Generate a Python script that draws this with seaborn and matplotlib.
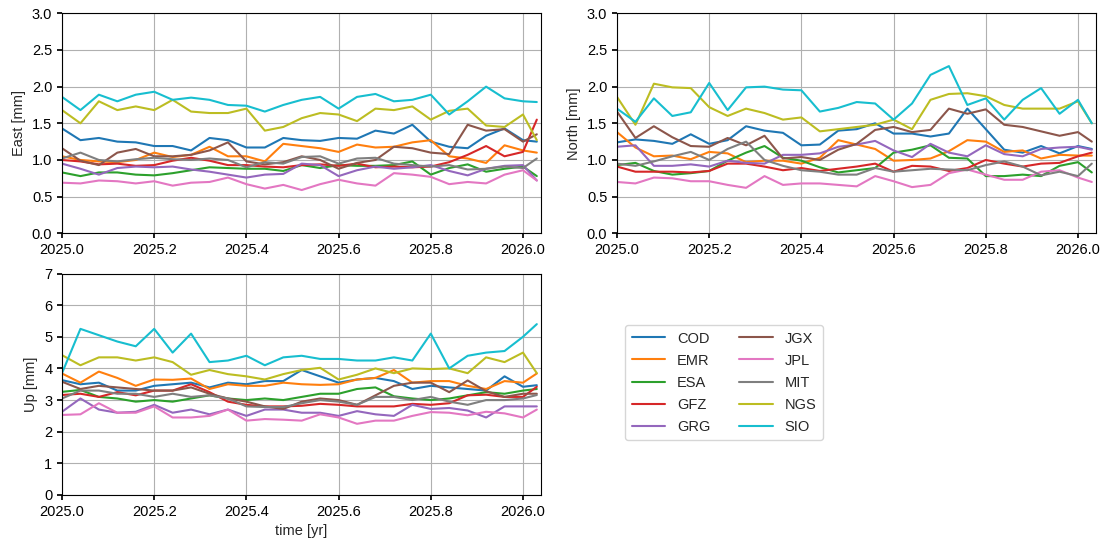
import matplotlib
matplotlib.use('Agg')
import matplotlib.pyplot as plt
import seaborn as sns
import pandas as pd
import numpy as np

# time axis (decimal years), ~2-week steps plus the last epoch
TIME = [2025.00, 2025.04, 2025.08, 2025.12, 2025.16, 2025.20, 2025.24, 2025.28, 2025.32,
        2025.36, 2025.40, 2025.44, 2025.48, 2025.52, 2025.56, 2025.60, 2025.64, 2025.68,
        2025.72, 2025.76, 2025.80, 2025.84, 2025.88, 2025.92, 2025.96, 2026.00, 2026.03]

CENTERS = ['COD', 'EMR', 'ESA', 'GFZ', 'GRG', 'JGX', 'JPL', 'MIT', 'NGS', 'SIO']

# ── East [mm] ────────────────────────────────────────────────────────────────
E_COD = [1.43, 1.27, 1.30, 1.25, 1.24, 1.19, 1.19, 1.13, 1.30, 1.27, 1.17, 1.17, 1.30, 1.27,
         1.26, 1.30, 1.29, 1.40, 1.36, 1.48, 1.25, 1.18, 1.16, 1.33, 1.43, 1.27, 1.25]
E_EMR = [1.05, 1.00, 0.98, 0.97, 1.00, 1.10, 1.04, 1.07, 1.18, 1.05, 1.05, 0.98, 1.22, 1.19,
         1.16, 1.11, 1.21, 1.17, 1.18, 1.24, 1.27, 1.05, 1.02, 0.96, 1.20, 1.13, 1.10]
E_ESA = [0.83, 0.78, 0.83, 0.83, 0.80, 0.79, 0.82, 0.86, 0.90, 0.89, 0.88, 0.88, 0.85, 0.93,
         0.89, 0.93, 0.92, 0.92, 0.93, 0.98, 0.80, 0.89, 0.94, 0.84, 0.88, 0.91, 0.78]
E_GFZ = [1.00, 0.98, 0.94, 0.95, 0.92, 0.93, 0.99, 1.03, 0.99, 0.93, 0.93, 0.91, 0.90, 0.93,
         0.94, 0.92, 0.95, 0.90, 0.91, 0.90, 0.91, 0.97, 1.07, 1.19, 1.05, 1.11, 1.55]
E_GRG = [0.95, 0.88, 0.80, 0.89, 0.91, 0.90, 0.91, 0.87, 0.84, 0.80, 0.76, 0.80, 0.81, 0.95,
         0.93, 0.78, 0.86, 0.91, 0.88, 0.90, 0.93, 0.85, 0.79, 0.88, 0.92, 0.93, 0.72]
E_JGX = [1.16, 0.99, 0.93, 1.10, 1.15, 1.05, 1.05, 1.07, 1.13, 1.24, 0.98, 0.94, 0.97, 1.05,
         1.00, 0.88, 0.96, 1.00, 1.18, 1.16, 1.10, 1.08, 1.48, 1.40, 1.42, 1.25, 1.35]
E_JPL = [0.69, 0.68, 0.72, 0.71, 0.68, 0.71, 0.65, 0.69, 0.70, 0.76, 0.67, 0.61, 0.66, 0.59,
         0.67, 0.73, 0.68, 0.65, 0.82, 0.80, 0.77, 0.67, 0.70, 0.68, 0.80, 0.86, 0.72]
E_MIT = [1.02, 1.10, 1.00, 0.98, 1.01, 1.03, 1.01, 1.00, 1.02, 1.00, 0.90, 0.97, 0.95, 1.04,
         1.05, 0.95, 1.02, 1.03, 0.95, 0.93, 0.91, 0.93, 0.87, 0.88, 0.91, 0.89, 1.02]
E_NGS = [1.68, 1.50, 1.80, 1.68, 1.73, 1.68, 1.82, 1.66, 1.64, 1.64, 1.70, 1.40, 1.45, 1.57,
         1.64, 1.62, 1.53, 1.70, 1.68, 1.73, 1.55, 1.67, 1.70, 1.47, 1.45, 1.62, 1.27]
E_SIO = [1.86, 1.68, 1.89, 1.80, 1.89, 1.93, 1.82, 1.85, 1.82, 1.75, 1.74, 1.66, 1.75, 1.82,
         1.86, 1.70, 1.86, 1.90, 1.80, 1.82, 1.89, 1.62, 1.80, 2.00, 1.84, 1.80, 1.79]

# ── North [mm] ───────────────────────────────────────────────────────────────
N_COD = [1.24, 1.28, 1.26, 1.22, 1.35, 1.22, 1.27, 1.46, 1.40, 1.37, 1.20, 1.21, 1.40, 1.42,
         1.50, 1.36, 1.36, 1.32, 1.36, 1.70, 1.42, 1.14, 1.10, 1.19, 1.09, 1.19, 1.15]
N_EMR = [1.38, 1.17, 1.05, 1.06, 1.01, 1.11, 1.09, 0.97, 0.99, 0.99, 0.95, 1.03, 1.27, 1.21,
         1.15, 0.99, 1.00, 1.02, 1.12, 1.27, 1.25, 1.11, 1.13, 1.02, 1.07, 1.06, 1.06]
N_ESA = [0.93, 0.96, 0.85, 0.80, 0.82, 0.85, 0.99, 1.10, 1.19, 1.03, 0.99, 0.90, 0.83, 0.86,
         0.89, 1.10, 1.14, 1.20, 1.03, 1.02, 0.78, 0.78, 0.80, 0.78, 0.92, 0.97, 0.83]
N_GFZ = [0.91, 0.84, 0.84, 0.84, 0.83, 0.85, 0.95, 0.95, 0.91, 0.86, 0.89, 0.85, 0.88, 0.91,
         0.95, 0.84, 0.92, 0.91, 0.85, 0.89, 1.00, 0.95, 0.91, 0.95, 0.96, 1.05, 1.10]
N_GRG = [1.18, 1.20, 0.92, 0.92, 0.94, 0.91, 0.99, 0.96, 0.95, 1.07, 1.07, 1.09, 1.18, 1.21,
         1.26, 1.13, 1.04, 1.22, 1.10, 1.05, 1.20, 1.08, 1.05, 1.15, 1.17, 1.18, 1.14]
N_JGX = [1.66, 1.30, 1.46, 1.31, 1.19, 1.18, 1.30, 1.20, 1.33, 1.02, 1.04, 1.00, 1.14, 1.22,
         1.41, 1.45, 1.38, 1.41, 1.70, 1.63, 1.69, 1.48, 1.45, 1.39, 1.33, 1.38, 1.25]
N_JPL = [0.70, 0.68, 0.76, 0.75, 0.71, 0.71, 0.66, 0.62, 0.78, 0.66, 0.68, 0.68, 0.66, 0.64,
         0.78, 0.71, 0.63, 0.66, 0.82, 0.87, 0.80, 0.73, 0.73, 0.84, 0.86, 0.76, 0.70]
N_MIT = [0.95, 0.92, 0.98, 1.05, 1.11, 1.00, 1.15, 1.25, 1.00, 0.92, 0.86, 0.84, 0.80, 0.80,
         0.89, 0.84, 0.86, 0.88, 0.87, 0.86, 0.93, 0.98, 0.91, 0.79, 0.84, 0.78, 0.95]
N_NGS = [1.86, 1.48, 2.04, 1.99, 1.98, 1.72, 1.60, 1.70, 1.64, 1.55, 1.58, 1.39, 1.42, 1.45,
         1.48, 1.55, 1.42, 1.82, 1.90, 1.91, 1.87, 1.75, 1.70, 1.70, 1.70, 1.80, 1.50]
N_SIO = [1.70, 1.52, 1.84, 1.60, 1.65, 2.05, 1.68, 1.99, 2.00, 1.96, 1.95, 1.66, 1.71, 1.79,
         1.77, 1.55, 1.77, 2.16, 2.28, 1.75, 1.84, 1.55, 1.82, 1.98, 1.63, 1.82, 1.50]

# ── Up [mm] ──────────────────────────────────────────────────────────────────
U_COD = [3.63, 3.50, 3.55, 3.30, 3.30, 3.45, 3.50, 3.55, 3.40, 3.55, 3.50, 3.60, 3.60, 3.95,
         3.75, 3.55, 3.65, 3.70, 3.60, 3.35, 3.45, 3.40, 3.35, 3.30, 3.75, 3.42, 3.47]
U_EMR = [3.84, 3.55, 3.90, 3.70, 3.45, 3.65, 3.64, 3.68, 3.35, 3.50, 3.45, 3.45, 3.55, 3.50,
         3.48, 3.50, 3.65, 3.70, 3.95, 3.55, 3.60, 3.60, 3.45, 3.35, 3.60, 3.55, 3.84]
U_ESA = [3.26, 3.32, 3.10, 3.05, 2.95, 3.00, 2.95, 3.05, 3.15, 3.05, 3.00, 3.05, 3.00, 3.10,
         3.20, 3.20, 3.35, 3.40, 3.12, 3.05, 3.00, 3.05, 3.15, 3.25, 3.20, 3.30, 3.35]
U_GFZ = [3.16, 3.20, 3.10, 3.25, 3.15, 3.30, 3.30, 3.50, 3.25, 2.95, 2.85, 2.80, 2.80, 2.82,
         2.88, 2.85, 2.80, 2.80, 2.80, 2.88, 2.85, 2.90, 3.15, 3.17, 3.10, 3.10, 3.42]
U_GRG = [2.63, 3.05, 2.70, 2.60, 2.63, 2.85, 2.60, 2.70, 2.55, 2.70, 2.50, 2.70, 2.70, 2.60,
         2.60, 2.50, 2.65, 2.55, 2.50, 2.85, 2.72, 2.75, 2.67, 2.45, 2.80, 2.80, 2.80]
U_JGX = [3.58, 3.35, 3.45, 3.40, 3.35, 3.30, 3.30, 3.40, 3.20, 3.05, 2.95, 2.80, 2.72, 2.95,
         3.05, 3.00, 2.85, 3.15, 3.45, 3.55, 3.55, 3.25, 3.62, 3.28, 3.10, 3.20, 3.20]
U_JPL = [2.53, 2.55, 2.90, 2.60, 2.60, 2.80, 2.45, 2.45, 2.50, 2.70, 2.35, 2.40, 2.38, 2.35,
         2.55, 2.45, 2.25, 2.35, 2.35, 2.50, 2.62, 2.60, 2.52, 2.63, 2.58, 2.45, 2.70]
U_MIT = [3.05, 3.30, 3.30, 3.20, 3.20, 3.10, 3.20, 3.10, 3.15, 3.05, 2.80, 2.78, 2.78, 2.90,
         3.00, 2.95, 2.85, 3.10, 3.10, 3.00, 3.10, 2.95, 2.85, 3.00, 3.00, 3.05, 3.16]
U_NGS = [4.42, 4.10, 4.35, 4.35, 4.25, 4.35, 4.20, 3.80, 3.95, 3.82, 3.75, 3.65, 3.82, 3.95,
         4.02, 3.65, 3.80, 4.00, 3.85, 4.00, 3.98, 4.00, 3.85, 4.35, 4.20, 4.50, 3.85]
U_SIO = [3.85, 5.25, 5.05, 4.85, 4.70, 5.25, 4.50, 5.10, 4.20, 4.25, 4.40, 4.10, 4.35, 4.40,
         4.30, 4.30, 4.25, 4.25, 4.35, 4.25, 5.10, 4.00, 4.40, 4.50, 4.55, 5.00, 5.40]

EAST = [E_COD, E_EMR, E_ESA, E_GFZ, E_GRG, E_JGX, E_JPL, E_MIT, E_NGS, E_SIO]
NORTH = [N_COD, N_EMR, N_ESA, N_GFZ, N_GRG, N_JGX, N_JPL, N_MIT, N_NGS, N_SIO]
UP = [U_COD, U_EMR, U_ESA, U_GFZ, U_GRG, U_JGX, U_JPL, U_MIT, U_NGS, U_SIO]


def build_frame():
    rows = []
    for i, c in enumerate(CENTERS):
        for j, t in enumerate(TIME):
            rows.append((t, c, EAST[i][j], NORTH[i][j], UP[i][j]))
    return pd.DataFrame(rows, columns=['time', 'center', 'East', 'North', 'Up'])


def setup_style():
    sns.set_theme(style='ticks')
    plt.rcParams.update({
        'font.family': ['Liberation Sans', 'DejaVu Sans'],
        'font.size': 10.5,
        'axes.labelsize': 10.5, 'xtick.labelsize': 10.5, 'ytick.labelsize': 10.5,
        'legend.fontsize': 10.5,
        'axes.edgecolor': 'black', 'axes.linewidth': 0.8,
        'xtick.color': 'black', 'ytick.color': 'black',
        'xtick.direction': 'out', 'ytick.direction': 'out',
        'xtick.major.size': 3.5, 'ytick.major.size': 3.5,
        'axes.grid': True, 'grid.color': '#b0b0b0', 'grid.linewidth': 0.8,
        'axes.spines.top': True, 'axes.spines.right': True,
    })


def main():
    setup_style()
    df = build_frame()
    palette = dict(zip(CENTERS, sns.color_palette('tab10', 10)))

    W, H = 1104, 541
    fig = plt.figure(figsize=(W / 100, H / 100), dpi=100)

    def px_axes(x0, y0, x1, y1):
        return fig.add_axes([x0 / W, 1 - y1 / H, (x1 - x0) / W, (y1 - y0) / H])

    ax_e = px_axes(62, 13.3, 540.5, 233.3)
    ax_n = px_axes(617, 13.3, 1095.5, 233.3)
    ax_u = px_axes(62, 273.5, 540.5, 495)

    panels = [(ax_e, 'East', 'East [mm]', 3.0, 0.5),
              (ax_n, 'North', 'North [mm]', 3.0, 0.5),
              (ax_u, 'Up', 'Up [mm]', 7.0, 1.0)]

    for ax, col, ylab, ymax, step in panels:
        sns.lineplot(data=df, x='time', y=col, hue='center', hue_order=CENTERS,
                     palette=palette, estimator=None, linewidth=1.5, ax=ax,
                     legend=(col == 'Up'))
        ax.set_xlim(2025.0, 2026.038)
        ax.set_ylim(0, ymax)
        ax.set_xticks(np.round(np.arange(2025.0, 2026.01, 0.2), 1))
        ax.xaxis.set_major_formatter(matplotlib.ticker.FormatStrFormatter('%.1f'))
        yt = np.arange(0, ymax + step / 2, step)
        ax.set_yticks(yt)
        if step < 1:
            ax.yaxis.set_major_formatter(matplotlib.ticker.FormatStrFormatter('%.1f'))
        ax.set_ylabel(ylab)
        ax.set_xlabel('')
        ax.set_axisbelow(True)
        ax.grid(True)

    ax_u.set_xlabel('time [yr]')

    handles, labels = ax_u.get_legend_handles_labels()
    ax_u.get_legend().remove()
    fig.legend(handles, labels, loc='upper left', ncol=2,
               bbox_to_anchor=(625 / W, 1 - 325 / H), borderaxespad=0,
               handlelength=2.3, handletextpad=0.8, columnspacing=2.0,
               labelspacing=0.55, frameon=True, edgecolor='#cccccc',
               fancybox=True, borderpad=0.45)

    fig.savefig('out.png', dpi=100)
    plt.close(fig)


if __name__ == '__main__':
    main()
